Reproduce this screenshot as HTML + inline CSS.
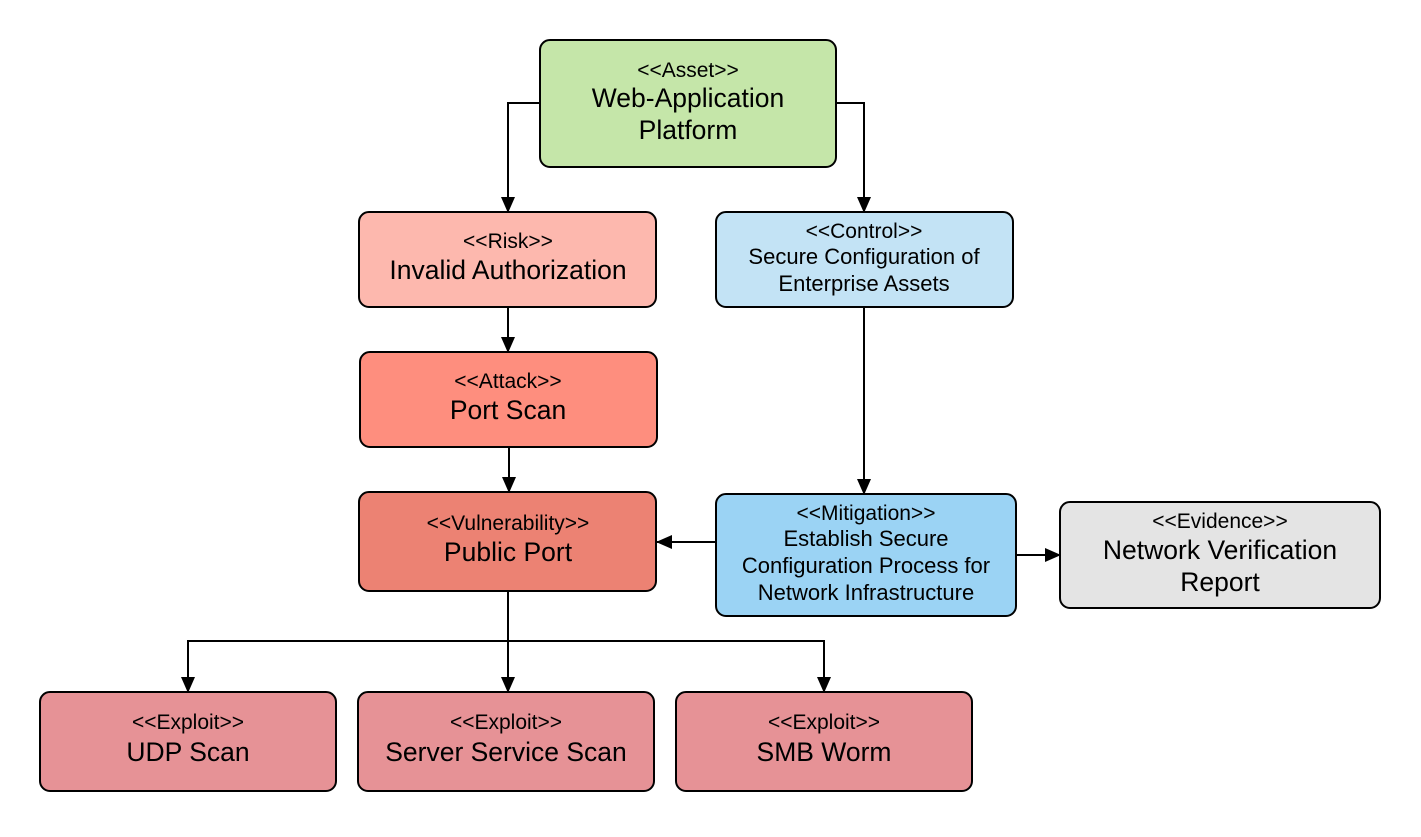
<!DOCTYPE html><html><head><style>body{margin:0;background:#fff}</style></head><body>
<svg width="1421" height="832" viewBox="0 0 1421 832" xmlns="http://www.w3.org/2000/svg" font-family="Liberation Sans, sans-serif" text-anchor="middle" fill="#000">
<defs><marker id="b" markerWidth="16" markerHeight="14" refX="15" refY="7" orient="auto" markerUnits="userSpaceOnUse"><path d="M0,0 L16,7 L0,14 z" fill="#000"/></marker></defs>
<g stroke="#000" stroke-width="2" fill="none" marker-end="url(#b)">
<path d="M540 103 H508 V212"/><path d="M836 103 H864 V212"/>
<path d="M508 307 V352"/><path d="M509 447 V492"/><path d="M864 307 V494"/>
<path d="M716 542 H657"/><path d="M1016 555 H1060"/>
<path d="M508 591 V641 H188 V692"/><path d="M508 641 V692"/><path d="M508 641 H824 V692"/>
</g>
<g stroke="#000" stroke-width="2">
<rect x="540" y="40" width="296" height="127" rx="10" fill="#c5e6a9"/>
<rect x="359" y="212" width="297" height="95" rx="10" fill="#fdb8ae"/>
<rect x="716" y="212" width="297" height="95" rx="10" fill="#c3e3f5"/>
<rect x="360" y="352" width="297" height="95" rx="10" fill="#fe8e7e"/>
<rect x="359" y="492" width="297" height="99" rx="10" fill="#ec8273"/>
<rect x="716" y="494" width="300" height="122" rx="10" fill="#9bd3f4"/>
<rect x="1060" y="502" width="320" height="106" rx="10" fill="#e4e4e4"/>
<rect x="40" y="692" width="296" height="99" rx="10" fill="#e69296"/>
<rect x="358" y="692" width="296" height="99" rx="10" fill="#e69296"/>
<rect x="676" y="692" width="296" height="99" rx="10" fill="#e69296"/>
</g>
<g font-size="21">
<text x="688" y="77">&lt;&lt;Asset&gt;&gt;</text>
<text x="508" y="248">&lt;&lt;Risk&gt;&gt;</text>
<text x="864" y="238">&lt;&lt;Control&gt;&gt;</text>
<text x="508" y="388">&lt;&lt;Attack&gt;&gt;</text>
<text x="508" y="530">&lt;&lt;Vulnerability&gt;&gt;</text>
<text x="866" y="520">&lt;&lt;Mitigation&gt;&gt;</text>
<text x="1220" y="528">&lt;&lt;Evidence&gt;&gt;</text>
<text x="188" y="729">&lt;&lt;Exploit&gt;&gt;</text>
<text x="506" y="729">&lt;&lt;Exploit&gt;&gt;</text>
<text x="824" y="729">&lt;&lt;Exploit&gt;&gt;</text>
</g>
<g font-size="22">
<text x="864" y="264">Secure Configuration of</text>
<text x="864" y="291">Enterprise Assets</text>
<text x="866" y="546">Establish Secure</text>
<text x="866" y="573">Configuration Process for</text>
<text x="866" y="600">Network Infrastructure</text>
</g>
<g font-size="26.5">
<text x="688" y="107">Web-Application</text>
<text x="688" y="139">Platform</text>
<text x="508" y="279">Invalid Authorization</text>
<text x="508" y="419">Port Scan</text>
<text x="508" y="561">Public Port</text>
<text x="1220" y="559">Network Verification</text>
<text x="1220" y="591">Report</text>
<text x="188" y="761">UDP Scan</text>
<text x="506" y="761">Server Service Scan</text>
<text x="824" y="761">SMB Worm</text>
</g>
</svg>
</body></html>
